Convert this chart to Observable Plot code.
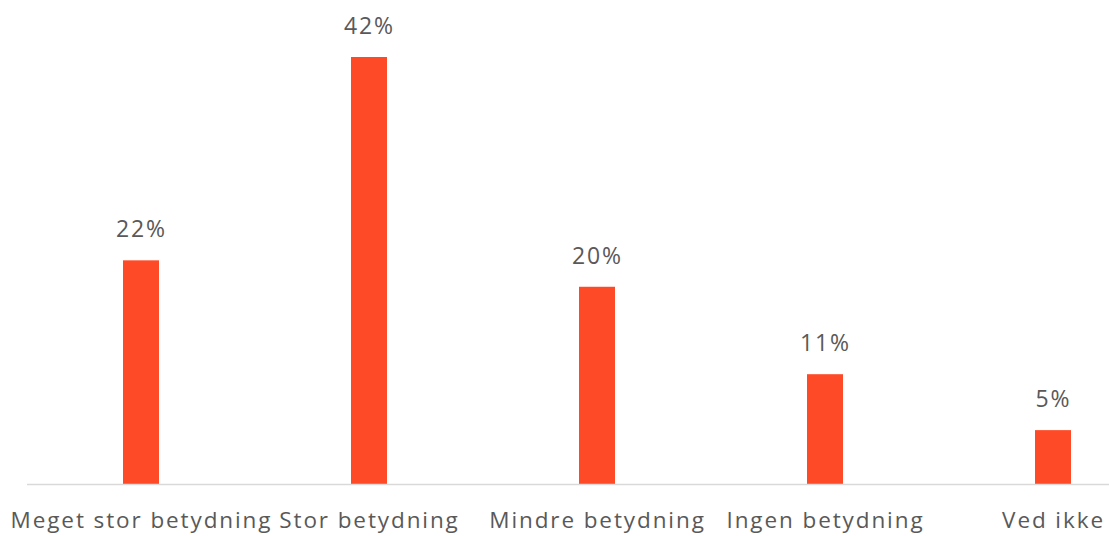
<!DOCTYPE html>
<html><head><meta charset="utf-8">
<script src="https://cdn.jsdelivr.net/npm/d3@7"></script>
<script src="https://cdn.jsdelivr.net/npm/@observablehq/plot@0.6"></script>
<style>body{margin:0;background:#fff;overflow:hidden}</style>
</head><body><div id="chart"></div>
<script>
const categories = ["Meget stor betydning","Stor betydning","Mindre betydning","Ingen betydning","Ved ikke"];
const values = [22, 42, 19.4, 10.8, 5.3];
const labels = ["22%","42%","20%","11%","5%"];
const data = categories.map((c,i)=>({cat:c, v:values[i], label:labels[i]}));
const font = "'Open Sans', 'Noto Sans', sans-serif";
const chart = Plot.plot({
  width: 1109, height: 536,
  marginLeft: 27, marginRight: 0, marginTop: 0, marginBottom: 52,
  style: {fontFamily: font, background: "#fff", letterSpacing: "1.9px"},
  x: {domain: categories, range: [27, 1167], paddingInner: 0.842, paddingOuter: 0.421, axis: null},
  y: {domain: [0, 42], range: [484, 57], axis: null},
  marks: [
    Plot.barY(data, {x: "cat", y: "v", fill: "#FF4A27"}),
    Plot.ruleY([0], {stroke: "#d9d9d9", strokeWidth: 1.5}),
    Plot.text(data, {x: "cat", y: "v", text: "label", dy: -31, fontSize: 23, fill: "#595959"}),
    Plot.text(data, {x: "cat", text: "cat", frameAnchor: "bottom", dy: 43, fontSize: 22.5, fill: "#595959"})
  ]
});
document.getElementById("chart").append(chart);
</script></body></html>
